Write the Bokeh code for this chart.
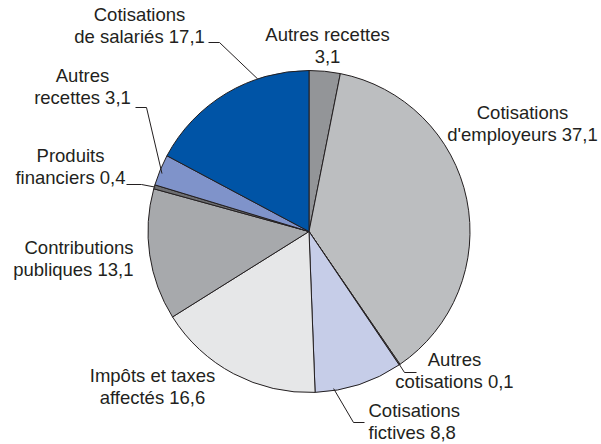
import math
from bokeh.plotting import figure
from bokeh.models import Range1d, ColumnDataSource
from bokeh.core.properties import value
from bokeh.embed import file_html
from bokeh.resources import INLINE

# ---- data (clockwise from 12 o'clock) ----
categories = ["Autres recettes", "Cotisations d'employeurs", "Autres cotisations",
              "Cotisations fictives", "Impôts et taxes affectés", "Contributions publiques",
              "Produits financiers", "Autres recettes", "Cotisations de salariés"]
values = [3.1, 37.1, 0.1, 8.8, 16.6, 13.1, 0.4, 3.1, 17.1]
value_labels = ["3,1", "37,1", "0,1", "8,8", "16,6", "13,1", "0,4", "3,1", "17,1"]
colors = ["#939598", "#bcbec0", "#a7a9ac", "#c6cde8", "#e6e7e8",
          "#a7a9ac", "#6d6e71", "#7f93ca", "#0054a6"]
label_line1 = ["Autres recettes", "Cotisations", "Autres", "Cotisations", "Impôts et taxes",
               "Contributions", "Produits", "Autres", "Cotisations"]
label_line2_prefix = ["", "d'employeurs", "cotisations", "fictives", "affectés",
                      "publiques", "financiers", "recettes", "de salariés"]

# ---- layout (picture pixel coordinates, y downwards) ----
W, H = 601, 444
def Y(py):
    return H - py

cx, cy, R = 308.5, 231, 161
label_x = [327, 522, 454, 368, 152, 133, 70, 82, 139]
label_base = [42, 120, 367, 418, 383, 255, 163, 83, 22]
label_align = ["center", "center", "center", "left", "center", "right", "center", "center", "center"]
line_gap = 22
text_shift = 8  # renderer places alphabetic baseline a bit lower
# leaders: slice index, tip angle (deg clockwise from top), tip radius, elbow points
leaders = [
    (8, 341.4, 161, [(219, 42), (208, 42)]),
    (7, 291.5, 158, [(146, 107), (135, 107)]),
    (6, 286.1, 160, [(141, 184), (126, 184)]),
    (2, 145.8, 160, [(404, 372), (416, 372)]),
    (3, 171.1, 159, [(353, 422), (364, 422)]),
]

p = figure(width=W, height=H, x_range=Range1d(0, W), y_range=Range1d(0, H),
           output_backend="svg", toolbar_location=None, min_border=0,
           x_axis_location=None, y_axis_location=None, outline_line_color=None,
           background_fill_color="white", border_fill_color="white")
p.grid.visible = False

total = sum(values)
starts, ends = [], []
cum = 0.0
for v in values:
    a0 = math.pi / 2 - 2 * math.pi * (cum + v) / total
    a1 = math.pi / 2 - 2 * math.pi * cum / total
    starts.append(a0)
    ends.append(a1)
    cum += v

src = ColumnDataSource(dict(start=starts, end=ends, color=colors, name=categories, val=values))
p.wedge(x=cx, y=Y(cy), radius=R, start_angle="start", end_angle="end", direction="anticlock",
        fill_color="color", line_color="#231f20", line_width=1, source=src)

# leader lines
xs, ys = [], []
for idx, ang, rr, elbows in leaders:
    t = math.radians(ang)
    tx = cx + rr * math.sin(t)
    ty = cy - rr * math.cos(t)
    xs.append([tx] + [e[0] for e in elbows])
    ys.append([Y(ty)] + [Y(e[1]) for e in elbows])
p.multi_line(xs=xs, ys=ys, line_color="#231f20", line_width=1)

# labels
for align in ["left", "center", "right"]:
    tx, ty, tt = [], [], []
    for i in range(len(categories)):
        if label_align[i] != align:
            continue
        l2 = (label_line2_prefix[i] + " " + value_labels[i]).strip()
        b = label_base[i] - text_shift
        tx += [label_x[i], label_x[i]]
        ty += [Y(b), Y(b + line_gap)]
        tt += [label_line1[i], l2]
    if tt:
        p.text(x=tx, y=ty, text=tt, text_font=value("Liberation Sans"), text_font_size="18.5px",
               text_color="#231f20", text_align=align, text_baseline="alphabetic")

open("out.html", "w").write(file_html(p, INLINE))
